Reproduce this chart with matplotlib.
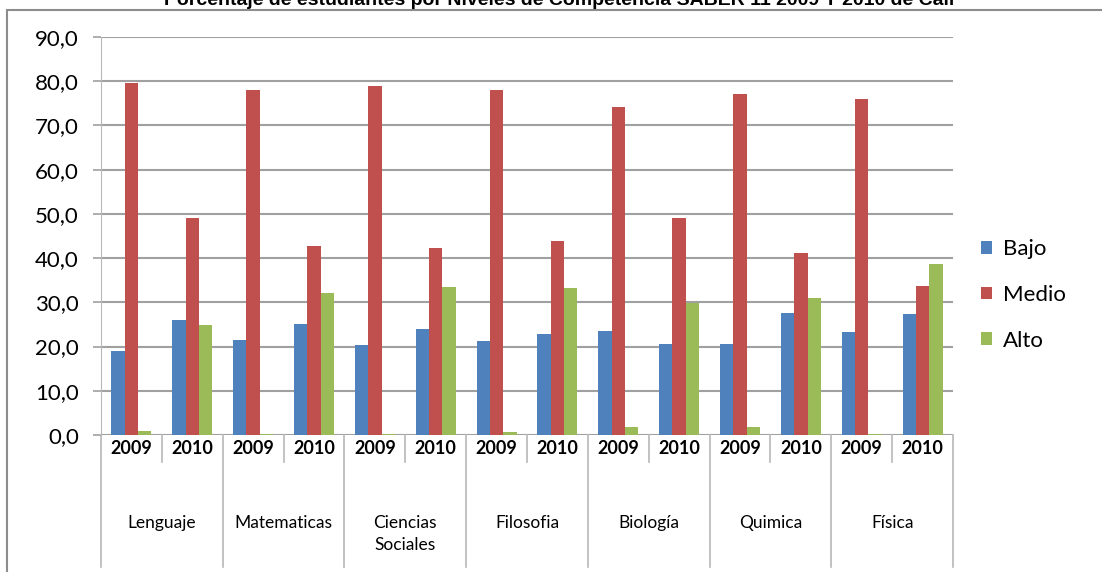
import matplotlib
matplotlib.use('Agg')
import matplotlib.pyplot as plt
import matplotlib.transforms as mtransforms
from matplotlib.patches import Rectangle
import numpy as np

materias = ['Lenguaje', 'Matematicas', 'Ciencias\nSociales', 'Filosofia', 'Biología', 'Quimica', 'Física']
anios = ['2009', '2010']
bajo = [19.0, 26.0, 21.5, 25.1, 20.4, 24.0, 21.3, 22.8, 23.5, 20.6, 20.6, 27.6, 23.4, 27.4]
medio = [79.7, 49.1, 78.0, 42.7, 78.9, 42.3, 78.0, 43.9, 74.2, 49.1, 77.1, 41.2, 76.0, 33.7]
alto = [1.0, 24.9, 0.3, 32.1, 0.3, 33.5, 0.7, 33.2, 1.9, 29.9, 1.7, 31.0, 0.3, 38.7]
series = ['Bajo', 'Medio', 'Alto']
colores = ['#4F81BD', '#C0504D', '#9BBB59']

W, H = 1102, 572
fig = plt.figure(figsize=(W / 100, H / 100), dpi=100)
ax = fig.add_axes([101 / W, 1 - 435 / H, (953 - 101) / W, (435 - 37) / H])

x = np.arange(len(bajo))
bw = 0.219
for k, (vals, nombre, c) in enumerate(zip([bajo, medio, alto], series, colores)):
    ax.bar(x + (k - 1) * bw, vals, bw, color=c, label=nombre, zorder=3)

ax.set_xlim(-0.5, len(bajo) - 0.5)
ax.set_ylim(0, 90)
ax.set_yticks(np.arange(0, 91, 10))
ax.set_yticklabels([('%.1f' % v).replace('.', ',') for v in np.arange(0, 91, 10)],
                   fontfamily='Lato', fontsize=16)
ax.set_xticks([])
ax.yaxis.grid(True, color='#A0A0A0', lw=1.5, zorder=0)
ax.tick_params(axis='y', length=6, color='#A0A0A0', width=1.2, pad=10)
for s in ['top', 'right', 'bottom']:
    ax.spines[s].set_visible(False)
ax.spines['left'].set_color('#B8B8B8')

# tabla de categorias bajo el eje
tr = mtransforms.blended_transform_factory(ax.transData, ax.transAxes)
ax_h = 435 - 37
y_year = -(462 - 435) / ax_h
y_cat = -(567 - 435) / ax_h
for i in range(len(materias) + 1):
    ax.plot([-0.5 + 2 * i] * 2, [0, y_cat], transform=tr, color='#B8B8B8', lw=1.2, clip_on=False)
for i in range(len(materias)):
    ax.plot([0.5 + 2 * i] * 2, [0, y_year], transform=tr, color='#B8B8B8', lw=1.2, clip_on=False)
    for j, a in enumerate(anios):
        ax.text(2 * i + j, -(448 - 435) / ax_h, a, transform=tr, ha='center', va='center',
                fontfamily='Lato', fontweight='bold', fontsize=13)
    ax.text(2 * i + 0.5, -(515 - 435) / ax_h, materias[i], transform=tr, ha='center', va='top',
            fontfamily='Lato', fontsize=12.5, linespacing=1.45)

fig.legend(loc='center left', bbox_to_anchor=(970 / W, 1 - 295 / H), frameon=False,
           prop={'family': 'Lato', 'size': 16}, handlelength=0.5, handleheight=0.5,
           labelspacing=1.15, handletextpad=0.5, borderpad=0)

fig.patches.append(Rectangle((7 / W, -0.1), 1.2, 1.1 - 10 / H, transform=fig.transFigure,
                             fill=False, edgecolor='#8C8C8C', lw=1.5))
fig.text(0.507, 1 - 5 / H, 'Porcentaje de estudiantes por Niveles de Competencia SABER 11 2009 Y 2010 de Cali',
         ha='center', va='baseline', fontfamily='Liberation Sans', fontweight='bold', fontsize=14)

fig.savefig('out.png', dpi=100)
